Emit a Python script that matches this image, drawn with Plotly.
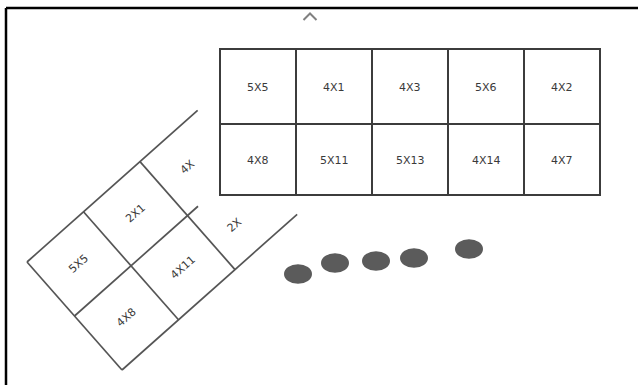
import plotly.graph_objects as go

# ---- content ----
top_row1 = ["5X5", "4X1", "4X3", "5X6", "4X2"]
top_row2 = ["4X8", "5X11", "5X13", "4X14", "4X7"]
tilted_row1 = ["5X5", "2X1", "4X"]
tilted_row2 = ["4X8", "4X11", "2X"]
dot_x = [298, 335, 376, 414, 469]
dot_y = [274, 263, 261, 258, 249]

# ---- geometry (drawing units = pixels of the canvas) ----
W, H = 638, 385
col_edges = [220, 296, 372, 448, 524, 600]
row_edges = [49, 124, 195]
O = (27.0, 262.0)      # left corner of the tilted grid
U = (56.5, -50.2)      # one cell along the long side
V = (47.5, 54.0)       # one cell along the short side

def P(a, b):
    return (O[0] + a * U[0] + b * V[0], O[1] + a * U[1] + b * V[1])

shapes = []
LINE_TOP = dict(color="#3c3c3c", width=2)
LINE_TILT = dict(color="#555555", width=1.7)

def seg(p, q, line):
    shapes.append(dict(type="line", xref="x", yref="y", x0=p[0], y0=p[1],
                       x1=q[0], y1=q[1], line=line, layer="above"))

# frame (top and left)
seg((6, 8), (W + 5, 8), dict(color="#000000", width=2.5))
seg((6, 8), (6, H + 5), dict(color="#000000", width=2.5))

# caret at the top
shapes.append(dict(type="path", xref="x", yref="y",
                   path="M 303.5 20 L 310 13.5 L 316.5 20",
                   line=dict(color="#808080", width=2)))

# tilted grid
seg(P(0, 0), P(3.02, 0), LINE_TILT)        # top edge, runs under the table
seg(P(0, 1), P(2.186, 1), LINE_TILT)       # middle line
seg(P(0, 2), P(3.1, 2), LINE_TILT)         # bottom edge
seg(P(0, 0), P(0, 2), LINE_TILT)
seg(P(1, 0), P(1, 2), LINE_TILT)
seg(P(2, 0), P(2, 2), LINE_TILT)

# top table
shapes.append(dict(type="rect", xref="x", yref="y", x0=col_edges[0], x1=col_edges[-1],
                   y0=row_edges[0], y1=row_edges[-1], fillcolor="white", line=LINE_TOP))
for cx in col_edges[1:-1]:
    seg((cx, row_edges[0]), (cx, row_edges[-1]), LINE_TOP)
seg((col_edges[0], row_edges[1]), (col_edges[-1], row_edges[1]), LINE_TOP)

# dots
for x, y in zip(dot_x, dot_y):
    shapes.append(dict(type="circle", xref="x", yref="y", x0=x - 14, x1=x + 14,
                       y0=y - 9.8, y1=y + 9.8, fillcolor="#5b5b5b", line=dict(width=0)))

annotations = []
FONT = dict(family="DejaVu Sans", size=11, color="#3a3a3a")
for r, row in enumerate([top_row1, top_row2]):
    for c, lab in enumerate(row):
        annotations.append(dict(x=(col_edges[c] + col_edges[c + 1]) / 2,
                                y=(row_edges[r] + row_edges[r + 1]) / 2 + 1,
                                xref="x", yref="y", text=lab, showarrow=False, font=FONT))

tilt_pos = {(0, 0): P(0.5, 0.5), (1, 0): P(1.5, 0.5), (2, 0): (187, 167),
            (0, 1): P(0.5, 1.5), (1, 1): P(1.5, 1.5), (2, 1): (234, 225)}
for r, row in enumerate([tilted_row1, tilted_row2]):
    for c, lab in enumerate(row):
        x, y = tilt_pos[(c, r)]
        annotations.append(dict(x=x, y=y, xref="x", yref="y", text=lab, showarrow=False,
                                textangle=-41, font=FONT))

fig = go.Figure()
fig.update_layout(width=W, height=H, margin=dict(l=0, r=0, t=0, b=0),
                  paper_bgcolor="white", plot_bgcolor="white", showlegend=False,
                  xaxis=dict(range=[0, W], visible=False, fixedrange=True),
                  yaxis=dict(range=[H, 0], visible=False, fixedrange=True),
                  shapes=shapes, annotations=annotations)
fig.write_html("out.html", config={"displayModeBar": False},
               post_script="document.body.style.margin='0';document.body.style.overflow='hidden';")
